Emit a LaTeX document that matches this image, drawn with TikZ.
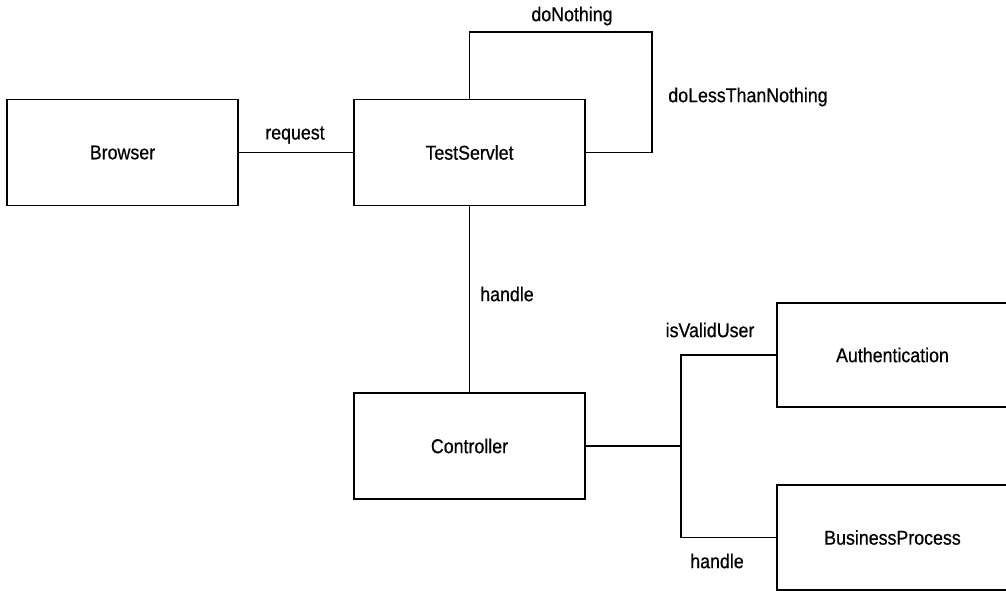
\documentclass[tikz,border=0pt]{standalone}
\usepackage{fontspec}
\setmainfont{Liberation Sans}[FakeStretch=0.89,FakeBold=0.6]
\begin{document}
\begin{tikzpicture}[x=1pt,y=-1pt,
  box/.style={draw,line width=1.6pt,rectangle,minimum width=231pt,minimum height=106pt,inner sep=0pt,font=\fontsize{20}{24}\selectfont},
  lbl/.style={font=\fontsize{20}{24}\selectfont,inner sep=0pt},
  conn/.style={line width=1.6pt}]
\useasboundingbox (0,0) rectangle (1006,590);
\clip (0,0) rectangle (1006,590);
\node[box] (browser) at (122.5,152.5) {Browser};
\node[box] (servlet) at (469.5,152.5) {TestServlet};
\node[box] (controller) at (469.5,446) {Controller};
\node[box,minimum height=104pt] (auth) at (892.5,355) {Authentication};
\node[box,minimum height=105pt] (bp) at (892.5,537.5) {BusinessProcess};
\coordinate (loopTR) at (652,32);
\coordinate (j) at (681,446);
\draw[conn] (browser.east) -- (servlet.west);
\draw[conn] (servlet.north) |- (loopTR) |- (servlet.east);
\draw[conn] (servlet.south) -- (controller.north);
\draw[conn] (controller.east) -- (j);
\draw[conn] (auth.west) -| (j) |- (bp.west);
\node[lbl] (lreq) at (295,135) {request};
\node[lbl] (ldo) at (572,16) {doNothing};
\node[lbl] (lless) at (748,97) {doLessThanNothing};
\node[lbl] (lhandle) at (507,294) {handle};
\node[lbl] (lvalid) at (710,330) {isValidUser};
\node[lbl] (lhandle2) at (717,561) {handle};
\end{tikzpicture}
\end{document}
